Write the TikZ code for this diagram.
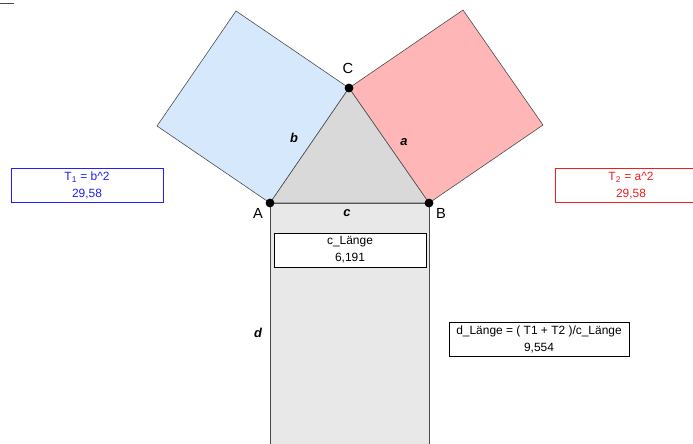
\documentclass[tikz,border=0pt]{standalone}
\usepackage{fontspec}
\setmainfont{Liberation Sans}
\usepackage{tikz}
\usetikzlibrary{positioning,calc}
\definecolor{squareblue}{HTML}{D6E8FC}
\definecolor{squarered}{HTML}{FFB6B6}
\definecolor{trigray}{HTML}{D9D9D9}
\definecolor{rectgray}{HTML}{E8E8E8}
\definecolor{edgegray}{HTML}{4A4A4A}
\definecolor{boxblue}{HTML}{1E1EFF}
\definecolor{boxred}{HTML}{F01E1E}

\begin{document}
\begin{tikzpicture}[x=0.03cm, y=-0.03cm,
  face/.style={fill=#1, draw=edgegray, line width=0.5pt},
  pt/.style={circle, fill=black, inner sep=0pt, minimum size=7.5pt},
  vlabel/.style={font=\fontsize{12.5}{14}\selectfont},
  slabel/.style={font=\fontsize{11}{13}\selectfont\bfseries\itshape},
  valbox/.style={rectangle, draw=#1, text=#1, fill=white, line width=0.8pt,
    minimum width=152*0.03cm, minimum height=34*0.03cm, align=center,
    inner sep=1pt, font=\fontsize{10.2}{14.5}\selectfont}
]
\useasboundingbox (0,0) rectangle (693,443);
\clip (0,0) rectangle (693,443);

% triangle corners
\coordinate (A) at (270,203);
\coordinate (B) at (429,203);
\coordinate (C) at (349,88);
% outer corners of the squares
\coordinate (Ab) at (157,126);
\coordinate (Cb) at (236,11);
\coordinate (Ca) at (463,10);
\coordinate (Ba) at (543,125);
\coordinate (Ad) at (270,448);
\coordinate (Bd) at (429,448);

\draw[edgegray, line width=0.8pt] (0,3) -- (14,3);

\draw[face=squareblue] (A) -- (C) -- (Cb) -- (Ab) -- cycle;
\draw[face=squarered] (B) -- (C) -- (Ca) -- (Ba) -- cycle;
\draw[face=rectgray] (A) -- (B) -- (Bd) -- (Ad) -- cycle;
\draw[face=trigray] (A) -- (B) -- (C) -- cycle;

\node[pt] (pA) at (A) {};
\node[pt] (pB) at (B) {};
\node[pt] (pC) at (C) {};

\node[vlabel] (lA) at (258,213) {A};
\node[vlabel] (lB) at (441,213) {B};
\node[vlabel] (lC) at (348,68) {C};

\node[slabel] (la) at (404,142) {a};
\node[slabel] (lb) at (294,138) {b};
\node[slabel] (lc) at (347,213) {c};
\node[slabel] (ld) at (258,333) {d};

\node[valbox=boxblue] (t1) at (87,185.5) {T\textsubscript{1} = b\textasciicircum 2\\29,58};
\node[valbox=boxred] (t2) at (631,185.5) {T\textsubscript{2} = a\textasciicircum 2\\29,58};
\node[valbox=black] (cl) at (350,250) {c\_Länge\\6,191};
\node[valbox=black, minimum width=180*0.03cm] (dl) at (539,339.5) {d\_Länge = ( T1 + T2 )/c\_Länge\\9,554};
\end{tikzpicture}
\end{document}
